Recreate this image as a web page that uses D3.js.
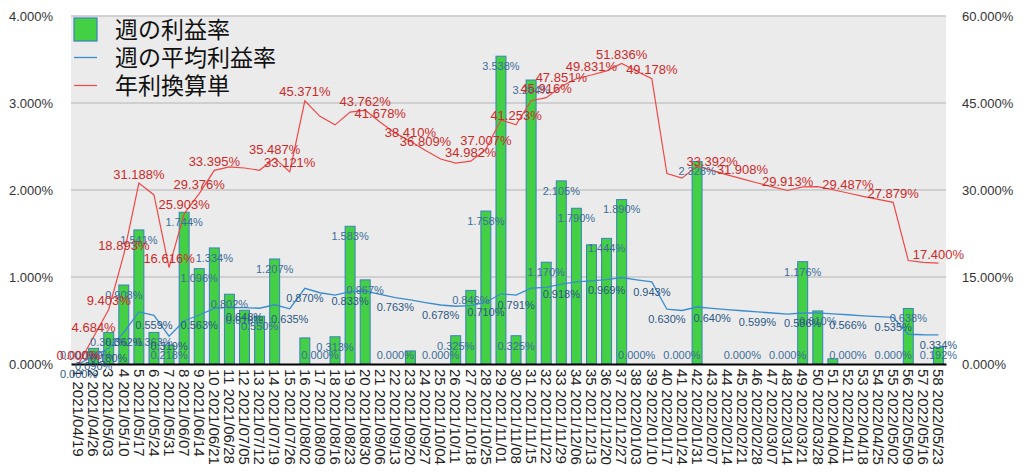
<!DOCTYPE html>
<html>
<head>
<meta charset="utf-8">
<script src="https://d3js.org/d3.v7.min.js"></script>
<style>
  body { margin: 0; background: #fff; }
  svg { display: block; }
</style>
</head>
<body>
<script>
// week dates (x tick labels)
const dates = [
  "2021/04/19","2021/04/26","2021/05/03","2021/05/10","2021/05/17","2021/05/24","2021/05/31",
  "2021/06/07","2021/06/14","2021/06/21","2021/06/28","2021/07/05","2021/07/12","2021/07/19",
  "2021/07/26","2021/08/02","2021/08/09","2021/08/16","2021/08/23","2021/08/30","2021/09/06",
  "2021/09/13","2021/09/20","2021/09/27","2021/10/04","2021/10/11","2021/10/18","2021/10/25",
  "2021/11/01","2021/11/08","2021/11/15","2021/11/22","2021/11/29","2021/12/06","2021/12/13",
  "2021/12/20","2021/12/27","2022/01/03","2022/01/10","2022/01/17","2022/01/24","2022/01/31",
  "2022/02/07","2022/02/14","2022/02/21","2022/02/28","2022/03/07","2022/03/14","2022/03/21",
  "2022/03/28","2022/04/04","2022/04/11","2022/04/18","2022/04/25","2022/05/02","2022/05/09",
  "2022/05/16","2022/05/23"
];

// 週の利益率 (bars, %)
const weekly = [
  0, 0.180, 0.361, 0.908, 1.541, 0.363, 0.218, 1.744, 1.096, 1.334,
  0.802, 0.618, 0.550, 1.207, 0, 0.300, 0, 0.313, 1.583, 0.967,
  0, 0, 0.150, 0, 0, 0.325, 0.846, 1.758, 3.538, 0.325,
  3.264, 1.170, 2.105, 1.790, 1.370, 1.444, 1.890, 0, 0, null,
  0, 2.328, 0, 0, 0, 0, 0, 0, 1.176, 0.610,
  0.060, 0, 0, 0, 0, 0.638, 0, 0.192
];

// 週の平均利益率 (left axis, %)
const average = [
  0.000, 0.090, 0.180, 0.362, 0.598, 0.559, 0.319, 0.497, 0.563, 0.640,
  0.652, 0.648, 0.641, 0.681, 0.635, 0.870, 0.819, 0.791, 0.833, 0.839,
  0.799, 0.763, 0.737, 0.706, 0.678, 0.664, 0.671, 0.710, 0.807, 0.791,
  0.871, 0.881, 0.918, 0.943, 0.956, 0.969, 0.994, 0.968, 0.943, 0.630,
  0.615, 0.655, 0.640, 0.626, 0.612, 0.599, 0.586, 0.574, 0.586, 0.587,
  0.576, 0.566, 0.554, 0.544, 0.535, 0.342, 0.336, 0.334
];

// 年利換算単 (right axis, %)
const annual = [
  0.000, 4.684, 9.403, 18.893, 31.188, 29.150, 16.616, 25.903, 29.376, 33.395,
  34.000, 33.790, 33.400, 35.487, 33.121, 45.371, 42.700, 41.230, 43.430, 43.762,
  41.678, 39.780, 38.410, 36.809, 35.350, 34.640, 34.982, 37.007, 42.100, 41.253,
  45.400, 45.916, 47.851, 49.190, 49.831, 50.540, 51.836, 50.470, 49.178, 32.850,
  32.050, 34.170, 33.392, 32.620, 31.908, 31.200, 30.540, 29.913, 30.550, 30.580,
  30.040, 29.487, 28.910, 28.370, 27.879, 17.840, 17.530, 17.400
];

// weeks whose data label is shown in the picture
const barLabelWeeks = [1,2,3,4,5,6,7,8,9,10,11,12,13,14,17,18,19,20,22,25,26,27,28,29,30,
  31,32,33,34,36,37,38,41,42,45,48,49,50,52,55,56,58];
const avgLabelWeeks = [1,2,3,4,6,7,9,12,15,16,19,22,25,28,30,33,36,39,40,43,46,49,52,55,58];
const annualLabelWeeks = [1,2,3,4,5,7,8,9,10,14,15,16,20,21,23,24,27,28,30,32,33,35,37,39,
  43,45,48,52,55,58];

const leftTicks = [0, 1, 2, 3, 4];
const rightTicks = [0, 15, 30, 45, 60];
const legendNames = ["週の利益率", "週の平均利益率", "年利換算単"];

const width = 1024, height = 473;
const margin = {top: 16, right: 78, bottom: 109, left: 71};
const numFont = "'Liberation Sans', Arial, Helvetica, sans-serif";
const pct = d => d3.format(".3f")(d) + "%";

const weeks = d3.range(1, dates.length + 1);

const svg = d3.select("body").append("svg")
  .attr("width", width)
  .attr("height", height);

const x = d3.scaleBand()
  .domain(weeks)
  .range([margin.left, width - margin.right])
  .paddingInner(0.34)
  .paddingOuter(0.17);

const yL = d3.scaleLinear().domain([0, 4]).range([height - margin.bottom, margin.top]);
const yR = d3.scaleLinear().domain([0, 60]).range([height - margin.bottom, margin.top]);
const cx = w => x(w) + x.bandwidth() / 2;

// plot background
svg.append("rect")
  .attr("x", margin.left).attr("y", margin.top)
  .attr("width", width - margin.left - margin.right)
  .attr("height", height - margin.top - margin.bottom)
  .attr("fill", "#ebebeb");

// gridlines
svg.append("g").selectAll("line").data(leftTicks.slice(1))
  .enter().append("line")
    .attr("x1", margin.left).attr("x2", width - margin.right)
    .attr("y1", d => yL(d)).attr("y2", d => yL(d))
    .attr("stroke", "#c6c6c6")
    .attr("stroke-width", 1.5);

// bars
svg.append("g").selectAll("rect")
  .data(weeks.filter(w => weekly[w - 1] != null && weekly[w - 1] > 0))
  .enter().append("rect")
    .attr("x", w => x(w))
    .attr("width", x.bandwidth())
    .attr("y", w => yL(weekly[w - 1]))
    .attr("height", w => yL(0) - yL(weekly[w - 1]))
    .attr("fill", "#44d044")
    .attr("stroke", "#3a80bf")
    .attr("stroke-width", 1);

// lines
const avgLine = d3.line().x(cx).y(w => yL(average[w - 1]));
const annLine = d3.line().x(cx).y(w => yR(annual[w - 1]));

svg.append("path").datum(weeks)
  .attr("d", avgLine)
  .attr("fill", "none")
  .attr("stroke", "#3a8ccf")
  .attr("stroke-width", 1.3);

svg.append("path").datum(weeks)
  .attr("d", annLine)
  .attr("fill", "none")
  .attr("stroke", "#f04848")
  .attr("stroke-width", 1.2);

// x axis
const xAxis = svg.append("g")
  .attr("transform", `translate(0,${yL(0)})`)
  .call(d3.axisBottom(x).tickSize(0).tickSizeOuter(0)
    .tickFormat(w => w + " " + dates[w - 1]));
xAxis.select(".domain").attr("stroke", "#000").attr("stroke-width", 2);
xAxis.selectAll("text")
  .attr("transform", "rotate(90)")
  .attr("x", 5).attr("y", 0).attr("dy", "0.35em")
  .attr("text-anchor", "start")
  .attr("fill", "#222")
  .style("font-family", numFont)
  .style("font-size", "15px");

// left axis
const leftAxis = svg.append("g")
  .attr("transform", `translate(${margin.left},0)`)
  .call(d3.axisLeft(yL).tickValues(leftTicks).tickSize(0).tickPadding(18).tickFormat(pct));
leftAxis.select(".domain").remove();
leftAxis.selectAll("text")
  .attr("fill", "#333")
  .style("font-family", numFont)
  .style("font-size", "13px");

// right axis
const rightAxis = svg.append("g")
  .attr("transform", `translate(${width - margin.right},0)`)
  .call(d3.axisRight(yR).tickValues(rightTicks).tickSize(0).tickPadding(16).tickFormat(pct));
rightAxis.select(".domain").remove();
rightAxis.selectAll("text")
  .attr("fill", "#333")
  .style("font-family", numFont)
  .style("font-size", "13px");

// data labels
const labels = svg.append("g").style("font-family", numFont).attr("text-anchor", "middle");

labels.selectAll(".barlab").data(barLabelWeeks)
  .enter().append("text")
    .attr("class", "barlab")
    .attr("x", cx)
    .attr("y", w => Math.min(yL(weekly[w - 1]) + 10, yL(0) - 9))
    .attr("dy", "0.35em")
    .attr("fill", "#3d6d9a")
    .style("font-size", "11px")
    .text(w => pct(weekly[w - 1]));

labels.selectAll(".avglab").data(avgLabelWeeks)
  .enter().append("text")
    .attr("class", "avglab")
    .attr("x", cx)
    .attr("y", w => yL(average[w - 1]) + 10)
    .attr("dy", "0.35em")
    .attr("fill", "#2b5785")
    .style("font-size", "11px")
    .text(w => pct(average[w - 1]));

labels.selectAll(".annlab").data(annualLabelWeeks)
  .enter().append("text")
    .attr("class", "annlab")
    .attr("x", cx)
    .attr("y", w => yR(annual[w - 1]) - 9)
    .attr("dy", "0.35em")
    .attr("fill", "#cc2a2a")
    .style("font-size", "13px")
    .text(w => pct(annual[w - 1]));

// legend
const legend = svg.append("g").attr("transform", `translate(${margin.left + 3},${margin.top + 2})`);
const rowH = 28;
legend.append("rect")
  .attr("x", 0).attr("y", 0).attr("width", 23).attr("height", 23)
  .attr("fill", "#44d044").attr("stroke", "#3a80bf").attr("stroke-width", 1.2);
legend.append("line")
  .attr("x1", 0).attr("x2", 23).attr("y1", 11.5 + rowH).attr("y2", 11.5 + rowH)
  .attr("stroke", "#3a8ccf").attr("stroke-width", 1.3);
legend.append("line")
  .attr("x1", 0).attr("x2", 23).attr("y1", 11.5 + rowH * 2).attr("y2", 11.5 + rowH * 2)
  .attr("stroke", "#f04848").attr("stroke-width", 1.2);
legend.selectAll("text").data(legendNames)
  .enter().append("text")
    .attr("x", 41)
    .attr("y", (d, i) => 11.5 + i * rowH)
    .attr("dy", "0.36em")
    .attr("fill", "#111")
    .style("font-family", "'Noto Sans CJK JP', sans-serif")
    .style("font-size", "23px")
    .text(d => d);
</script>
</body>
</html>
